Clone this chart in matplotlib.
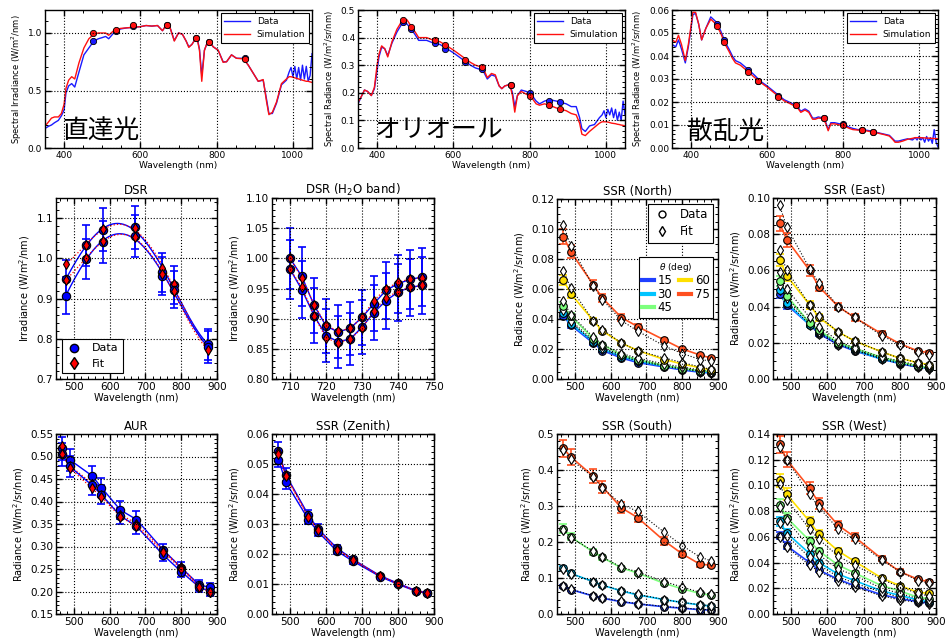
import numpy as np
import matplotlib
matplotlib.use("Agg")
import matplotlib.pyplot as plt
from matplotlib.ticker import AutoMinorLocator, MultipleLocator
from matplotlib.lines import Line2D

W, H = 947, 643
JP = ['Noto Sans CJK JP', 'DejaVu Sans']

# ---- top row: spectra ----
wl = [350, 360, 367, 375, 385, 393, 400, 405, 412, 420,
      428, 439, 452, 465, 478, 490, 500, 509, 517, 530,
      548, 565, 583, 600, 615, 630, 645, 658, 670, 678,
      689, 700, 710, 720, 727, 735, 748, 755, 761, 768,
      778, 791, 804, 817, 826, 839, 852, 870, 883, 896,
      909, 922, 931, 937, 946, 957, 970, 983, 990, 995,
      1000, 1005, 1010, 1015, 1020, 1025, 1030, 1035, 1040, 1045, 1050]

dir_data = [0.17, 0.19, 0.20, 0.22, 0.24, 0.28, 0.33, 0.48, 0.54, 0.56,
            0.53, 0.66, 0.81, 0.87, 0.93, 0.95, 0.96, 0.97, 0.95, 1.00,
            1.035, 1.045, 1.05, 1.055, 1.065, 1.06, 1.065, 1.02, 1.08, 1.045,
            0.935, 1.00, 0.99, 0.93, 0.88, 0.90, 0.97, 0.86, 0.63, 0.85,
            0.94, 0.88, 0.85, 0.75, 0.75, 0.81, 0.78, 0.78, 0.72, 0.65,
            0.58, 0.59, 0.42, 0.30, 0.30, 0.39, 0.55, 0.59, 0.66, 0.70,
            0.62, 0.71, 0.60, 0.70, 0.59, 0.72, 0.60, 0.71, 0.58, 0.63, 0.82]
dir_sim = [0.19, 0.23, 0.26, 0.27, 0.27, 0.30, 0.38, 0.52, 0.59, 0.62,
           0.60, 0.74, 0.87, 0.95, 0.99, 1.00, 1.00, 1.00, 0.98, 1.02,
           1.04, 1.045, 1.05, 1.055, 1.065, 1.06, 1.065, 1.02, 1.08, 1.045,
           0.93, 1.00, 0.99, 0.93, 0.875, 0.90, 0.965, 0.85, 0.58, 0.85,
           0.94, 0.88, 0.85, 0.745, 0.75, 0.81, 0.78, 0.775, 0.72, 0.65,
           0.58, 0.595, 0.40, 0.29, 0.31, 0.40, 0.56, 0.60, 0.62, 0.62,
           0.615, 0.61, 0.605, 0.60, 0.595, 0.59, 0.585, 0.58, 0.58, 0.575, 0.57]
dir_pts_wl = [477, 535, 580, 670, 745, 780, 875]
dir_pts_data = [0.93, 1.02, 1.06, 1.07, 0.96, 0.92, 0.78]
dir_pts_sim = [1.00, 1.03, 1.07, 1.07, 0.96, 0.92, 0.775]

aur_data = [0.16, 0.19, 0.21, 0.205, 0.19, 0.215, 0.28, 0.33, 0.365, 0.36,
            0.335, 0.38, 0.42, 0.45, 0.45, 0.43, 0.41, 0.39, 0.39, 0.39,
            0.38, 0.375, 0.36, 0.345, 0.33, 0.315, 0.30, 0.29, 0.285, 0.28,
            0.25, 0.265, 0.26, 0.225, 0.215, 0.225, 0.23, 0.20, 0.15, 0.19,
            0.21, 0.205, 0.195, 0.17, 0.16, 0.17, 0.175, 0.17, 0.165, 0.16,
            0.15, 0.15, 0.11, 0.07, 0.06, 0.08, 0.085, 0.11, 0.12, 0.135,
            0.11, 0.14, 0.12, 0.145, 0.11, 0.14, 0.10, 0.13, 0.10, 0.17, 0.12]
aur_sim = [0.165, 0.19, 0.21, 0.205, 0.19, 0.22, 0.30, 0.34, 0.37, 0.36,
           0.33, 0.385, 0.43, 0.46, 0.465, 0.44, 0.42, 0.40, 0.40, 0.40,
           0.39, 0.385, 0.37, 0.355, 0.34, 0.325, 0.31, 0.30, 0.295, 0.29,
           0.255, 0.27, 0.265, 0.225, 0.215, 0.225, 0.23, 0.19, 0.13, 0.19,
           0.205, 0.195, 0.185, 0.16, 0.155, 0.16, 0.155, 0.145, 0.14, 0.135,
           0.125, 0.12, 0.09, 0.05, 0.045, 0.06, 0.075, 0.09, 0.095, 0.095,
           0.095, 0.094, 0.092, 0.09, 0.089, 0.088, 0.086, 0.085, 0.083, 0.082, 0.08]
sky_pts_wl = [468, 488, 551, 577, 630, 675, 750, 800, 850, 880]
aur_pts_data = [0.455, 0.43, 0.38, 0.36, 0.31, 0.285, 0.23, 0.20, 0.172, 0.165]
aur_pts_sim = [0.465, 0.44, 0.39, 0.372, 0.32, 0.295, 0.23, 0.188, 0.155, 0.142]

sca_data = [0.045, 0.044, 0.047, 0.043, 0.037, 0.044, 0.052, 0.058, 0.0585, 0.054,
            0.047, 0.052, 0.057, 0.055, 0.051, 0.046, 0.043, 0.040, 0.038, 0.037,
            0.0345, 0.032, 0.029, 0.027, 0.025, 0.023, 0.021, 0.020, 0.019, 0.0185,
            0.016, 0.017, 0.016, 0.013, 0.013, 0.0135, 0.013, 0.011, 0.008, 0.011,
            0.011, 0.0105, 0.010, 0.009, 0.0085, 0.008, 0.008, 0.0075, 0.007, 0.0065,
            0.006, 0.0055, 0.004, 0.003, 0.003, 0.0035, 0.004, 0.0035, 0.0045, 0.0035,
            0.005, 0.0035, 0.0045, 0.0025, 0.005, 0.003, 0.0045, 0.002, 0.008, 0.0025, 0.0005]
sca_sim = [0.047, 0.046, 0.049, 0.045, 0.038, 0.045, 0.053, 0.059, 0.059, 0.054,
           0.047, 0.052, 0.056, 0.054, 0.050, 0.045, 0.042, 0.039, 0.037, 0.036,
           0.0335, 0.031, 0.0285, 0.0265, 0.0245, 0.0225, 0.0205, 0.0195, 0.0185, 0.018,
           0.0155, 0.0165, 0.0155, 0.0125, 0.0125, 0.013, 0.0128, 0.0105, 0.0075, 0.0105,
           0.0105, 0.010, 0.0095, 0.0085, 0.008, 0.0078, 0.0077, 0.0072, 0.0068, 0.0063,
           0.0058, 0.0052, 0.0037, 0.0025, 0.0025, 0.003, 0.0038, 0.0042, 0.0045, 0.0045,
           0.0045, 0.0045, 0.0044, 0.0044, 0.0043, 0.0043, 0.0042, 0.0042, 0.0041, 0.0041, 0.004]
sca_pts_data = [0.054, 0.047, 0.034, 0.029, 0.0225, 0.0185, 0.013, 0.0105, 0.008, 0.007]
sca_pts_sim = [0.053, 0.046, 0.033, 0.029, 0.022, 0.0185, 0.013, 0.0100, 0.0078, 0.007]

# ---- DSR ----
dsr_wl = [477, 535, 580, 670, 745, 780, 875]
dsr_data_a = [0.948, 1.032, 1.071, 1.077, 0.965, 0.934, 0.786]
dsr_fit_a = [0.985, 1.033, 1.072, 1.075, 0.975, 0.935, 0.775]
dsr_data_b = [0.907, 0.999, 1.040, 1.055, 0.956, 0.922, 0.780]
dsr_fit_b = [0.947, 1.000, 1.042, 1.053, 0.960, 0.920, 0.772]

h2o_wl = [710.0, 713.3, 716.7, 720.0, 723.3, 726.7, 730.0, 733.3, 736.7, 740.0, 743.3, 746.7]
h2o_data_a = [1.000, 0.970, 0.922, 0.888, 0.878, 0.884, 0.902, 0.925, 0.947, 0.958, 0.965, 0.969]
h2o_fit_a = [1.000, 0.968, 0.923, 0.890, 0.879, 0.884, 0.902, 0.930, 0.950, 0.960, 0.966, 0.968]
h2o_data_b = [0.982, 0.948, 0.905, 0.872, 0.862, 0.866, 0.886, 0.910, 0.930, 0.944, 0.952, 0.955]
h2o_fit_b = [0.982, 0.952, 0.905, 0.868, 0.860, 0.866, 0.884, 0.913, 0.935, 0.945, 0.952, 0.955]

aur_data_a = [0.518, 0.493, 0.457, 0.431, 0.381, 0.360, 0.292, 0.253, 0.215, 0.209]
aur_fit_a = [0.524, 0.480, 0.440, 0.414, 0.371, 0.351, 0.291, 0.254, 0.213, 0.200]
aur_data_b = [0.505, 0.478, 0.436, 0.415, 0.368, 0.345, 0.281, 0.244, 0.210, 0.200]
aur_fit_b = [0.505, 0.475, 0.429, 0.410, 0.366, 0.345, 0.288, 0.250, 0.210, 0.199]

zen_data_a = [0.0545, 0.0465, 0.0330, 0.0285, 0.0220, 0.0182, 0.0128, 0.0102, 0.0078, 0.0071]
zen_fit_a = [0.0540, 0.0462, 0.0325, 0.0283, 0.0217, 0.0181, 0.0127, 0.0101, 0.0078, 0.0070]
zen_data_b = [0.0515, 0.0440, 0.0315, 0.0275, 0.0210, 0.0176, 0.0125, 0.0099, 0.0076, 0.0069]
zen_fit_b = [0.0535, 0.0460, 0.0322, 0.0280, 0.0215, 0.0180, 0.0126, 0.0100, 0.0077, 0.0070]

# ---- SSR by view zenith angle ----
angles = [15, 30, 45, 60, 75]
angle_colors = {15: '#1f3fff', 30: '#00c4ff', 45: '#7dff7d', 60: '#ffe000', 75: '#ff5020'}
rel_err = 0.05

north_data = {15: [0.042, 0.036, 0.024, 0.019, 0.014, 0.011, 0.008, 0.006, 0.0045, 0.004],
              30: [0.044, 0.037, 0.025, 0.020, 0.015, 0.012, 0.0085, 0.007, 0.005, 0.0045],
              45: [0.049, 0.042, 0.027, 0.023, 0.016, 0.013, 0.009, 0.007, 0.0055, 0.005],
              60: [0.066, 0.057, 0.039, 0.032, 0.024, 0.019, 0.013, 0.010, 0.0075, 0.006],
              75: [0.095, 0.085, 0.063, 0.054, 0.041, 0.035, 0.026, 0.020, 0.016, 0.014]}
north_fit = {15: [0.045, 0.038, 0.025, 0.020, 0.015, 0.012, 0.0085, 0.0065, 0.005, 0.0043],
             30: [0.046, 0.039, 0.026, 0.021, 0.016, 0.013, 0.009, 0.007, 0.0055, 0.0048],
             45: [0.052, 0.043, 0.028, 0.023, 0.017, 0.014, 0.010, 0.008, 0.006, 0.005],
             60: [0.072, 0.061, 0.039, 0.033, 0.024, 0.019, 0.014, 0.011, 0.008, 0.0065],
             75: [0.103, 0.089, 0.062, 0.053, 0.039, 0.032, 0.022, 0.017, 0.013, 0.012]}

east_data = {15: [0.047, 0.041, 0.030, 0.025, 0.019, 0.0155, 0.011, 0.0085, 0.0065, 0.006],
             30: [0.049, 0.042, 0.030, 0.026, 0.020, 0.016, 0.011, 0.009, 0.007, 0.006],
             45: [0.054, 0.046, 0.031, 0.027, 0.020, 0.017, 0.012, 0.0095, 0.007, 0.0065],
             60: [0.066, 0.057, 0.041, 0.034, 0.026, 0.021, 0.015, 0.0115, 0.009, 0.008],
             75: [0.086, 0.077, 0.060, 0.051, 0.040, 0.034, 0.025, 0.0195, 0.0155, 0.0145]}
east_fit = {15: [0.049, 0.043, 0.030, 0.025, 0.019, 0.016, 0.011, 0.0085, 0.0065, 0.0055],
            30: [0.052, 0.045, 0.031, 0.026, 0.020, 0.016, 0.0115, 0.009, 0.007, 0.006],
            45: [0.059, 0.050, 0.034, 0.029, 0.021, 0.017, 0.012, 0.010, 0.0075, 0.0065],
            60: [0.071, 0.060, 0.041, 0.035, 0.026, 0.021, 0.015, 0.0115, 0.009, 0.0075],
            75: [0.096, 0.084, 0.061, 0.053, 0.040, 0.034, 0.024, 0.019, 0.015, 0.013]}

south_data = {15: [0.077, 0.068, 0.050, 0.044, 0.034, 0.028, 0.020, 0.016, 0.012, 0.011],
              30: [0.128, 0.113, 0.090, 0.080, 0.064, 0.053, 0.040, 0.032, 0.025, 0.022],
              45: [0.237, 0.215, 0.172, 0.157, 0.128, 0.114, 0.085, 0.070, 0.057, 0.052],
              75: [0.460, 0.437, 0.383, 0.353, 0.295, 0.268, 0.203, 0.167, 0.138, 0.136]}
south_fit = {15: [0.078, 0.069, 0.051, 0.045, 0.035, 0.029, 0.021, 0.017, 0.013, 0.012],
             30: [0.125, 0.112, 0.090, 0.080, 0.065, 0.055, 0.040, 0.032, 0.026, 0.023],
             45: [0.233, 0.212, 0.175, 0.158, 0.130, 0.117, 0.090, 0.075, 0.060, 0.055],
             75: [0.455, 0.430, 0.380, 0.350, 0.305, 0.285, 0.227, 0.190, 0.158, 0.148]}

west_data = {15: [0.061, 0.053, 0.040, 0.034, 0.027, 0.022, 0.015, 0.012, 0.0095, 0.0085],
             30: [0.072, 0.063, 0.047, 0.040, 0.031, 0.026, 0.018, 0.0145, 0.011, 0.0095],
             45: [0.085, 0.075, 0.057, 0.049, 0.038, 0.032, 0.022, 0.018, 0.013, 0.012],
             60: [0.104, 0.093, 0.072, 0.062, 0.049, 0.041, 0.028, 0.022, 0.017, 0.016],
             75: [0.132, 0.120, 0.098, 0.086, 0.069, 0.060, 0.043, 0.033, 0.027, 0.025]}
west_fit = {15: [0.060, 0.052, 0.038, 0.033, 0.026, 0.021, 0.014, 0.011, 0.009, 0.008],
            30: [0.071, 0.061, 0.044, 0.038, 0.029, 0.024, 0.017, 0.013, 0.010, 0.009],
            45: [0.083, 0.073, 0.052, 0.046, 0.035, 0.030, 0.020, 0.016, 0.012, 0.011],
            60: [0.101, 0.089, 0.066, 0.058, 0.045, 0.038, 0.027, 0.021, 0.016, 0.014],
            75: [0.130, 0.120, 0.093, 0.083, 0.066, 0.058, 0.042, 0.033, 0.026, 0.024]}


def box(l, r, t, b):
    return [l / W, 1 - b / H, (r - l) / W, (b - t) / H]


def setup(ax, xlim, ylim, xstep, ystep, fs):
    ax.set_xlim(xlim)
    ax.set_ylim(ylim)
    ax.xaxis.set_major_locator(MultipleLocator(xstep))
    ax.yaxis.set_major_locator(MultipleLocator(ystep))
    ax.xaxis.set_minor_locator(AutoMinorLocator())
    ax.yaxis.set_minor_locator(AutoMinorLocator())
    ax.tick_params(which='both', direction='in', top=True, right=True, labelsize=fs, pad=2)
    ax.tick_params(which='major', length=4, width=1)
    ax.tick_params(which='minor', length=2, width=0.7)
    ax.grid(True, which='major', color='k', linestyle=':', linewidth=0.8)
    ax.set_axisbelow(False)
    for s in ax.spines.values():
        s.set_linewidth(1.0)


fig = plt.figure(figsize=(W / 100, H / 100), dpi=100)

# ---- top row ----
top = [
    (box(45, 312, 10, 148), dir_data, dir_sim, dir_pts_wl, dir_pts_data, dir_pts_sim,
     (0, 1.2), 0.5, 'Spectral Irradiance (W/m$^2$/nm)', '直達光', (0.064, 0.065)),
    (box(358, 625, 10, 148), aur_data, aur_sim, sky_pts_wl, aur_pts_data, aur_pts_sim,
     (0, 0.5), 0.1, 'Spectral Radiance (W/m$^2$/sr/nm)', 'オリオール', (0.064, 0.08)),
    (box(672, 938, 10, 148), sca_data, sca_sim, sky_pts_wl, sca_pts_data, sca_pts_sim,
     (0, 0.06), 0.01, 'Spectral Radiance (W/m$^2$/sr/nm)', '散乱光', (0.056, 0.065)),
]
for rect, yd, ys, pw, pd, psim, ylim, ystep, ylab, jp, jpos in top:
    ax = fig.add_axes(rect)
    setup(ax, (350, 1050), ylim, 200, ystep, 6.5)
    ax.plot(wl, yd, color='#1a1aff', lw=1.0, label='Data')
    ax.plot(wl, ys, color='#ff1010', lw=1.0, label='Simulation')
    ax.plot(pw, pd, 'o', color='#1a1aff', mec='k', mew=0.6, ms=4.5)
    ax.plot(pw, psim, 'o', color='#ff1010', mec='k', mew=0.6, ms=4.5)
    ax.set_xlabel('Wavelength (nm)', fontsize=6.5, labelpad=1)
    ax.set_ylabel(ylab, fontsize=6, labelpad=3)
    leg = ax.legend(loc='upper right', fontsize=6.5, fancybox=False, handlelength=2.8,
                    borderaxespad=0.35, framealpha=1, edgecolor='k')
    leg.get_frame().set_linewidth(0.8)
    ax.text(jpos[0], jpos[1], jp, transform=ax.transAxes, fontsize=18.5,
            family=JP, va='baseline', ha='left')


def pair_panel(ax, x, da, fa, db, fb, smooth=False):
    for d, f in [(da, fa), (db, fb)]:
        d = np.array(d)
        f = np.array(f)
        if smooth:
            xs = np.linspace(min(x), max(x), 200)
            ax.plot(xs, np.polyval(np.polyfit(x, d, 4), xs), color='b', lw=1.0)
            ax.plot(xs, np.polyval(np.polyfit(x, f, 4), xs), color='r', lw=0.9, ls=':')
        else:
            ax.plot(x, d, color='b', lw=1.0)
            ax.plot(x, f, color='r', lw=0.9, ls=':')
        ax.errorbar(x, d, yerr=rel_err * d, fmt='none', ecolor='b', elinewidth=1.2,
                    capsize=3, capthick=1.2)
    for d, f in [(da, fa), (db, fb)]:
        ax.plot(x, d, 'o', color='b', mec='k', mew=0.8, ms=6)
        ax.plot(x, f, 'd', color='r', mec='k', mew=0.8, ms=5.5)


def ssr_panel(ax, data, fit):
    for a in angles:
        if a not in data:
            continue
        c = angle_colors[a]
        d = np.array(data[a])
        ax.plot(sky_pts_wl, d, color=c, lw=1.2)
        ax.errorbar(sky_pts_wl, d, yerr=rel_err * d, fmt='none', ecolor=c, elinewidth=1.2,
                    capsize=3, capthick=1.2)
    for a in angles:
        if a not in data:
            continue
        c = angle_colors[a]
        ax.plot(sky_pts_wl, fit[a], color='k', lw=0.8, ls=':')
        ax.plot(sky_pts_wl, data[a], 'o', color=c, mec='k', mew=0.8, ms=5.5)
        ax.plot(sky_pts_wl, fit[a], 'd', mfc='white', mec='k', mew=0.8, ms=5.5, ls='none')


TFS, LFS, KFS = 8.5, 7, 7.5
irr_lab = 'Irradiance (W/m$^2$/nm)'
rad_lab = 'Radiance (W/m$^2$/sr/nm)'

# DSR
ax = fig.add_axes(box(56, 217, 198, 379))
setup(ax, (450, 900), (0.7, 1.15), 100, 0.1, KFS)
pair_panel(ax, dsr_wl, dsr_data_a, dsr_fit_a, dsr_data_b, dsr_fit_b, smooth=True)
ax.set_title('DSR', fontsize=TFS, pad=3)
ax.set_xlabel('Wavelength (nm)', fontsize=LFS, labelpad=1)
ax.set_ylabel(irr_lab, fontsize=LFS, labelpad=3)
h = [Line2D([], [], marker='o', color='b', mec='k', ls='none', ms=6),
     Line2D([], [], marker='d', color='r', mec='k', ls='none', ms=6)]
leg = ax.legend(h, ['Data', 'Fit'], loc='lower left', fontsize=8, fancybox=False,
                edgecolor='k', framealpha=1, handlelength=1.5, borderaxespad=0.5)
leg.get_frame().set_linewidth(0.8)

# DSR H2O band
ax = fig.add_axes(box(272, 434, 198, 379))
setup(ax, (705, 750), (0.80, 1.10), 10, 0.05, KFS)
pair_panel(ax, h2o_wl, h2o_data_a, h2o_fit_a, h2o_data_b, h2o_fit_b)
ax.set_title('DSR (H$_2$O band)', fontsize=TFS, pad=3)
ax.set_xlabel('Wavelength (nm)', fontsize=LFS, labelpad=1)
ax.set_ylabel(irr_lab, fontsize=LFS, labelpad=3)

# SSR North
ax = fig.add_axes(box(557, 718, 199, 379))
setup(ax, (450, 900), (0, 0.12), 100, 0.02, KFS)
ssr_panel(ax, north_data, north_fit)
ax.set_title('SSR (North)', fontsize=TFS, pad=3)
ax.set_xlabel('Wavelength (nm)', fontsize=LFS, labelpad=1)
ax.set_ylabel(rad_lab, fontsize=LFS, labelpad=3)
h = [Line2D([], [], marker='o', mfc='white', mec='k', ls='none', ms=5),
     Line2D([], [], marker='d', mfc='white', mec='k', ls='none', ms=5)]
leg1 = ax.legend(h, ['Data', 'Fit'], loc='upper right', fontsize=8.5, fancybox=False,
                 edgecolor='k', framealpha=1, handlelength=1.5, borderaxespad=0.4,
                 labelspacing=0.3)
leg1.get_frame().set_linewidth(0.8)
ax.add_artist(leg1)
h = [Line2D([], [], color=angle_colors[a], lw=3) for a in angles]
leg2 = ax.legend(h, [str(a) for a in angles], loc='upper right', bbox_to_anchor=(0.985, 0.69),
                 ncol=2, fontsize=8.5, title=r'$\theta$ (deg)', title_fontsize=6.5,
                 fancybox=False, edgecolor='k', framealpha=1, handlelength=1.0,
                 handletextpad=0.3, columnspacing=0.6, labelspacing=0.05,
                 borderpad=0.3, borderaxespad=0.2)
leg2.get_frame().set_linewidth(0.8)

# SSR East
ax = fig.add_axes(box(773, 936, 198, 379))
setup(ax, (450, 900), (0, 0.10), 100, 0.02, KFS)
ssr_panel(ax, east_data, east_fit)
ax.set_title('SSR (East)', fontsize=TFS, pad=3)
ax.set_xlabel('Wavelength (nm)', fontsize=LFS, labelpad=1)
ax.set_ylabel(rad_lab, fontsize=LFS, labelpad=3)

# AUR
ax = fig.add_axes(box(56, 217, 434, 614))
setup(ax, (450, 900), (0.15, 0.55), 100, 0.05, KFS)
pair_panel(ax, sky_pts_wl, aur_data_a, aur_fit_a, aur_data_b, aur_fit_b)
ax.set_title('AUR', fontsize=TFS, pad=3)
ax.set_xlabel('Wavelength (nm)', fontsize=LFS, labelpad=1)
ax.set_ylabel(rad_lab, fontsize=LFS, labelpad=3)

# SSR Zenith
ax = fig.add_axes(box(272, 434, 434, 614))
setup(ax, (450, 900), (0, 0.06), 100, 0.01, KFS)
pair_panel(ax, sky_pts_wl, zen_data_a, zen_fit_a, zen_data_b, zen_fit_b)
ax.set_title('SSR (Zenith)', fontsize=TFS, pad=3)
ax.set_xlabel('Wavelength (nm)', fontsize=LFS, labelpad=1)
ax.set_ylabel(rad_lab, fontsize=LFS, labelpad=3)

# SSR South
ax = fig.add_axes(box(557, 718, 434, 614))
setup(ax, (450, 900), (0, 0.5), 100, 0.1, KFS)
ssr_panel(ax, south_data, south_fit)
ax.set_title('SSR (South)', fontsize=TFS, pad=3)
ax.set_xlabel('Wavelength (nm)', fontsize=LFS, labelpad=1)
ax.set_ylabel(rad_lab, fontsize=LFS, labelpad=3)

# SSR West
ax = fig.add_axes(box(773, 936, 434, 614))
setup(ax, (450, 900), (0, 0.14), 100, 0.02, KFS)
ssr_panel(ax, west_data, west_fit)
ax.set_title('SSR (West)', fontsize=TFS, pad=3)
ax.set_xlabel('Wavelength (nm)', fontsize=LFS, labelpad=1)
ax.set_ylabel(rad_lab, fontsize=LFS, labelpad=3)

fig.savefig('out.png', dpi=100, facecolor='white')
